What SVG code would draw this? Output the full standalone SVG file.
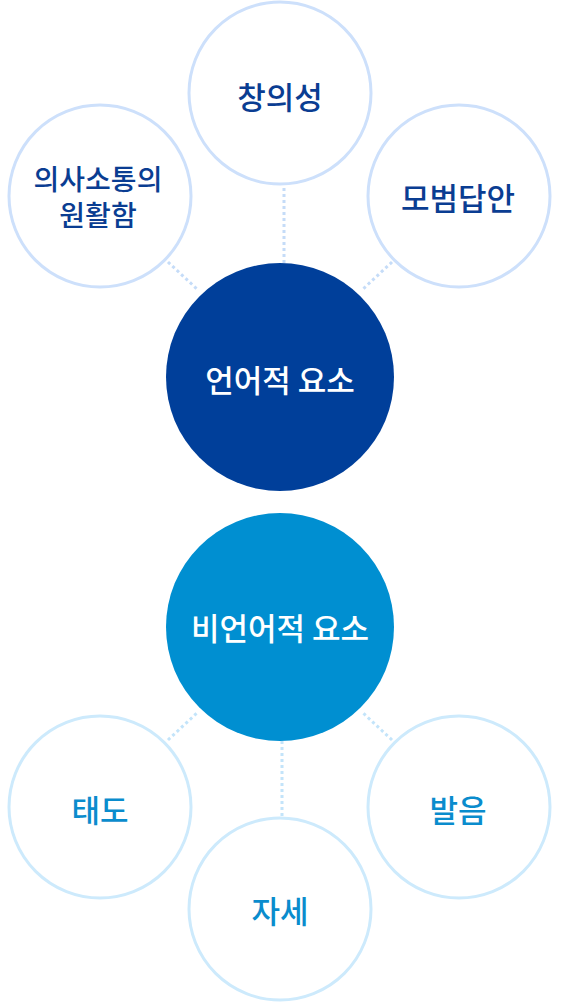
<svg xmlns="http://www.w3.org/2000/svg" width="561" height="1003" viewBox="0 0 561 1003">
<style>
text{font-family:"Noto Sans CJK KR","Noto Sans",sans-serif;font-weight:500;text-anchor:middle;dominant-baseline:central}
.ot{fill:#fff;stroke:#cde0fb;stroke-width:3}
.ob{fill:#fff;stroke:#cdeafc;stroke-width:3}
.tt{fill:#0a3d92;font-size:31px}
.tb{fill:#0a8ccd;font-size:31px}
.lt{stroke:#c5dcf8;stroke-width:3;stroke-dasharray:3 3;fill:none}
.lb{stroke:#c3e4fa;stroke-width:3;stroke-dasharray:3 3;fill:none}
.ct{fill:#fff;font-size:31px}
</style>
<g id="connectors">
<line class="lt" x1="284" y1="188" x2="284" y2="264"/>
<line class="lt" x1="168" y1="262" x2="198" y2="290"/>
<line class="lt" x1="392" y1="262" x2="362" y2="290"/>
<line class="lb" x1="282" y1="741" x2="282" y2="817"/>
<line class="lb" x1="168" y1="740" x2="198" y2="712"/>
<line class="lb" x1="392" y1="740" x2="362" y2="712"/>
</g>
<g id="n-creativity"><circle class="ot" cx="280" cy="93" r="91"/><text class="tt" x="280" y="95">창의성</text></g>
<g id="n-communication"><circle class="ot" cx="100" cy="196" r="91"/><text class="tt" style="font-size:28px"><tspan x="98" y="178">의사소통의</tspan><tspan x="98" y="214">원활함</tspan></text></g>
<g id="n-model"><circle class="ot" cx="459" cy="196" r="91"/><text class="tt" x="458" y="196">모범답안</text></g>
<g id="n-verbal"><circle cx="280" cy="377" r="114" fill="#003f9a"/><text class="ct" x="280" y="378">언어적 요소</text></g>
<g id="n-nonverbal"><circle cx="280" cy="627" r="114" fill="#008fd1"/><text class="ct" x="280" y="626">비언어적 요소</text></g>
<g id="n-attitude"><circle class="ob" cx="100" cy="807" r="91"/><text class="tb" x="100" y="808">태도</text></g>
<g id="n-pronunciation"><circle class="ob" cx="459" cy="807" r="91"/><text class="tb" x="458" y="808">발음</text></g>
<g id="n-posture"><circle class="ob" cx="280" cy="909" r="91"/><text class="tb" x="280" y="909">자세</text></g>
</svg>
